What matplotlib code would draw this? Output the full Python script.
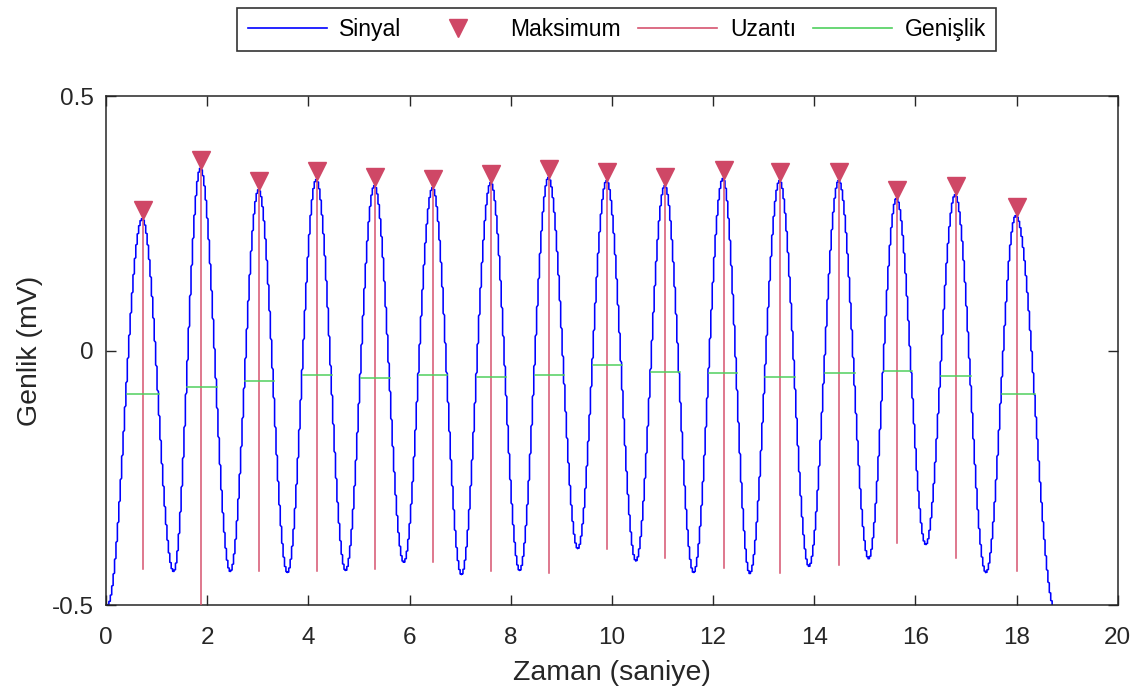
import numpy as np
import matplotlib
matplotlib.use("Agg")
from matplotlib import pyplot as plt
from matplotlib import ticker
from matplotlib.transforms import offset_copy
from matplotlib.lines import Line2D

plt.rcParams["font.family"] = ["Liberation Sans", "DejaVu Sans"]
plt.rcParams["axes.unicode_minus"] = False

# peaks (time in s, amplitude in mV)
peak_t = [0.73, 1.88, 3.03, 4.17, 5.32, 6.47, 7.62, 8.76, 9.91, 11.06, 12.21, 13.33, 14.50, 15.64, 16.80, 18.00]
peak_v = [0.259, 0.358, 0.316, 0.336, 0.324, 0.320, 0.330, 0.340, 0.334, 0.324, 0.338, 0.334, 0.334, 0.299, 0.306, 0.265]
# troughs between peaks
trough_t = [1.35, 2.47, 3.60, 4.75, 5.90, 7.04, 8.19, 9.34, 10.49, 11.63, 12.74, 13.91, 15.09, 16.22, 17.41]
trough_v = [-0.434, -0.434, -0.436, -0.432, -0.416, -0.440, -0.432, -0.389, -0.413, -0.436, -0.438, -0.424, -0.409, -0.381, -0.436]
# signal start / end points
start_t, start_v = 0.04, -0.50
end_t, end_v = 18.78, -0.51
# bottom of each prominence line (reference level)
base_v = [-0.430, -0.500, -0.434, -0.434, -0.430, -0.415, -0.434, -0.438, -0.389, -0.407, -0.428, -0.438, -0.422, -0.379, -0.407, -0.434]

# build the waveform between the read extremes (half-cosine segments)
ext_t = [start_t]
ext_v = [start_v]
for i in range(len(peak_t)):
    ext_t.append(peak_t[i])
    ext_v.append(peak_v[i])
    if i < len(trough_t):
        ext_t.append(trough_t[i])
        ext_v.append(trough_v[i])
ext_t.append(end_t)
ext_v.append(end_v)
ext_t = np.array(ext_t)
ext_v = np.array(ext_v)

t = np.arange(start_t, end_t, 0.002)
seg = np.clip(np.searchsorted(ext_t, t, side="right") - 1, 0, len(ext_t) - 2)
frac = (t - ext_t[seg]) / (ext_t[seg + 1] - ext_t[seg])
sig = ext_v[seg] + (ext_v[seg + 1] - ext_v[seg]) * (1 - np.cos(np.pi * frac)) / 2
t_plot = np.floor(t / 0.028) * 0.028  # coarse time stamps -> stair look


def half_width(pt, pv, bv):
    lvl = pv - (pv - bv) / 2
    k = np.argmin(np.abs(t - pt))
    i = k
    while i > 0 and sig[i] > lvl:
        i -= 1
    left = np.interp(lvl, [sig[i], sig[i + 1]], [t[i], t[i + 1]])
    j = k
    while j < len(sig) - 1 and sig[j] > lvl:
        j += 1
    right = np.interp(lvl, [sig[j], sig[j - 1]], [t[j], t[j - 1]])
    return left, right, lvl


c_sig = "#0000FF"
c_pk = "#CF4766"
c_prom = "#D6546F"
c_wid = "#4FCF5E"
dark = "#262626"

fig = plt.figure(figsize=(11.44, 6.92), dpi=100)
ax = fig.add_axes([0.0927, 0.1257, 0.8843, 0.7355])

ax.plot(t_plot, sig, color=c_sig, lw=1.15, zorder=2)
for pt, pv, bv in zip(peak_t, peak_v, base_v):
    ax.plot([pt, pt], [bv, pv], color=c_prom, lw=1.1, zorder=3)
    l, r, lvl = half_width(pt, pv, bv)
    ax.plot([l, r], [lvl, lvl], color=c_wid, lw=1.1, zorder=3)
tr = offset_copy(ax.transData, fig=fig, x=0, y=6, units="points")
ax.plot(peak_t, peak_v, "v", color=c_pk, ms=13, mec=c_pk, transform=tr, zorder=4, clip_on=False)

ax.set_xlim(0, 20)
ax.set_ylim(-0.5, 0.5)
ax.set_xticks(np.arange(0, 21, 2))
ax.set_yticks([-0.5, 0, 0.5])
ax.yaxis.set_major_formatter(ticker.FuncFormatter(lambda v, p: f"{v:g}"))
ax.tick_params(direction="in", length=7.5, width=1.0, colors=dark, labelsize=17.5,
               top=True, right=True)
ax.tick_params(axis="x", pad=16)
ax.tick_params(axis="y", pad=9)
for s in ax.spines.values():
    s.set_color(dark)
    s.set_linewidth(1.1)
ax.set_xlabel("Zaman (saniye)", fontsize=20.5, color=dark, labelpad=8)
ax.set_ylabel("Genlik (mV)", fontsize=20.5, color=dark, labelpad=6)

handles = [
    Line2D([], [], color=c_sig, lw=1.2),
    Line2D([], [], color=c_pk, marker="v", ls="none", ms=13),
    Line2D([], [], color=c_prom, lw=1.2),
    Line2D([], [], color=c_wid, lw=1.2),
]
leg = ax.legend(handles, ["Sinyal", "Maksimum", "Uzantı", "Genişlik"], ncol=4,
                loc="center", bbox_to_anchor=(0.505, 1.1306), frameon=True, fancybox=False,
                edgecolor="black", fontsize=16.5, handlelength=3.45, handletextpad=0.55,
                columnspacing=0.75, borderpad=0.45, borderaxespad=0)
leg.get_frame().set_linewidth(1.2)

fig.savefig("out.png", dpi=100)
